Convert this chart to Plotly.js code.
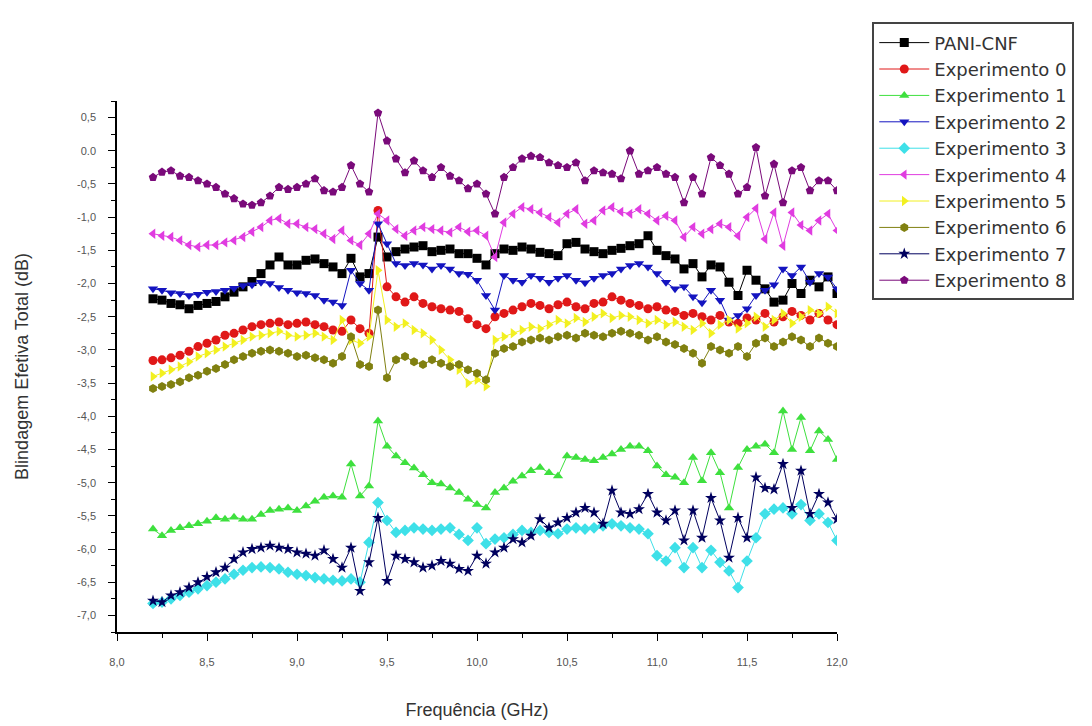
<!DOCTYPE html>
<html>
<head>
<meta charset="utf-8">
<script src="https://cdn.plot.ly/plotly-3.0.1.min.js"></script>
<style>html,body{margin:0;padding:0;background:#fff;}#chart{width:1092px;height:726px;}</style>
</head>
<body>
<div id="chart"></div>
<script>
const freq = [8.20,8.25,8.30,8.35,8.40,8.45,8.50,8.55,8.60,8.65,
8.70,8.75,8.80,8.85,8.90,8.95,9.00,9.05,9.10,9.15,
9.20,9.25,9.30,9.35,9.40,9.45,9.50,9.55,9.60,9.65,
9.70,9.75,9.80,9.85,9.90,9.95,10.00,10.05,10.10,10.15,
10.20,10.25,10.30,10.35,10.40,10.45,10.50,10.55,10.60,10.65,
10.70,10.75,10.80,10.85,10.90,10.95,11.00,11.05,11.10,11.15,
11.20,11.25,11.30,11.35,11.40,11.45,11.50,11.55,11.60,11.65,
11.70,11.75,11.80,11.85,11.90,11.95,12.00];

const pani = [-2.23,-2.25,-2.30,-2.32,-2.38,-2.33,-2.30,-2.27,-2.20,-2.13,
-2.05,-1.97,-1.85,-1.72,-1.60,-1.72,-1.72,-1.65,-1.63,-1.70,
-1.75,-1.85,-1.62,-1.90,-1.85,-1.30,-1.60,-1.52,-1.48,-1.45,
-1.43,-1.52,-1.50,-1.48,-1.55,-1.55,-1.62,-1.72,-1.55,-1.48,
-1.50,-1.45,-1.48,-1.53,-1.55,-1.58,-1.40,-1.38,-1.48,-1.52,
-1.55,-1.50,-1.47,-1.43,-1.40,-1.28,-1.50,-1.58,-1.63,-1.78,
-1.70,-1.90,-1.72,-1.75,-1.98,-2.18,-1.80,-1.95,-2.08,-2.28,
-2.25,-2.00,-2.15,-1.95,-2.05,-1.90,-2.15];

const exp0 = [-3.16,-3.15,-3.12,-3.08,-3.02,-2.95,-2.90,-2.85,-2.78,-2.75,
-2.70,-2.65,-2.62,-2.60,-2.58,-2.62,-2.60,-2.58,-2.62,-2.65,
-2.70,-2.72,-2.55,-2.68,-2.75,-0.90,-2.05,-2.20,-2.28,-2.20,
-2.30,-2.35,-2.38,-2.40,-2.42,-2.53,-2.62,-2.68,-2.50,-2.45,
-2.40,-2.35,-2.30,-2.33,-2.38,-2.32,-2.28,-2.35,-2.38,-2.30,
-2.28,-2.20,-2.25,-2.30,-2.33,-2.38,-2.35,-2.40,-2.42,-2.48,
-2.45,-2.50,-2.55,-2.48,-2.58,-2.60,-2.52,-2.55,-2.45,-2.58,
-2.50,-2.42,-2.48,-2.55,-2.45,-2.55,-2.62];

const exp1 = [-5.70,-5.80,-5.72,-5.68,-5.65,-5.62,-5.58,-5.53,-5.55,-5.52,
-5.55,-5.55,-5.48,-5.42,-5.40,-5.38,-5.42,-5.35,-5.28,-5.22,
-5.20,-5.22,-4.72,-5.20,-5.05,-4.07,-4.45,-4.60,-4.70,-4.78,
-4.88,-5.00,-5.02,-5.08,-5.15,-5.25,-5.33,-5.38,-5.15,-5.08,
-4.98,-4.90,-4.82,-4.77,-4.85,-4.90,-4.60,-4.62,-4.65,-4.67,
-4.62,-4.57,-4.50,-4.45,-4.45,-4.52,-4.75,-4.88,-4.92,-5.00,
-4.62,-4.97,-4.55,-4.85,-5.38,-4.77,-4.50,-4.45,-4.42,-4.55,
-3.92,-4.50,-4.02,-4.52,-4.22,-4.35,-4.65];

const exp2 = [-2.08,-2.10,-2.14,-2.15,-2.18,-2.16,-2.13,-2.12,-2.10,-2.07,
-2.03,-2.02,-1.98,-2.00,-2.06,-2.10,-2.14,-2.15,-2.18,-2.25,
-2.28,-2.33,-1.80,-2.00,-2.10,-1.10,-1.40,-1.70,-1.73,-1.70,
-1.72,-1.78,-1.73,-1.78,-1.85,-1.86,-1.95,-2.18,-2.40,-1.88,
-1.95,-1.98,-1.88,-1.92,-1.98,-1.92,-1.88,-1.95,-1.99,-1.92,
-1.88,-1.85,-1.78,-1.73,-1.70,-1.75,-1.85,-1.98,-2.08,-2.05,
-2.20,-2.29,-2.10,-2.25,-2.55,-2.48,-2.38,-2.18,-2.10,-2.02,
-1.78,-1.88,-1.75,-1.98,-1.85,-1.90,-2.08];

const exp3 = [-6.82,-6.80,-6.75,-6.70,-6.65,-6.60,-6.55,-6.50,-6.45,-6.38,
-6.32,-6.28,-6.27,-6.28,-6.30,-6.35,-6.38,-6.40,-6.43,-6.45,
-6.47,-6.48,-6.45,-6.50,-5.90,-5.30,-5.57,-5.75,-5.72,-5.68,
-5.70,-5.72,-5.70,-5.68,-5.78,-5.87,-5.68,-5.92,-5.85,-5.83,
-5.78,-5.72,-5.75,-5.72,-5.75,-5.77,-5.70,-5.68,-5.70,-5.68,
-5.65,-5.62,-5.65,-5.68,-5.70,-5.77,-6.10,-6.18,-5.98,-6.28,
-5.98,-6.28,-6.02,-6.20,-6.33,-6.58,-6.18,-5.83,-5.47,-5.40,
-5.38,-5.47,-5.33,-5.57,-5.47,-5.60,-5.87];

const exp4 = [-1.25,-1.28,-1.30,-1.35,-1.42,-1.45,-1.42,-1.42,-1.38,-1.35,
-1.30,-1.22,-1.15,-1.05,-1.02,-1.10,-1.10,-1.15,-1.18,-1.25,
-1.33,-1.20,-1.35,-1.42,-1.25,-0.95,-1.05,-1.18,-1.28,-1.20,
-1.15,-1.18,-1.20,-1.23,-1.15,-1.22,-1.20,-1.28,-1.60,-1.08,
-0.95,-0.85,-0.88,-0.93,-1.00,-1.08,-0.95,-0.88,-1.10,-1.05,
-0.90,-0.85,-0.92,-0.95,-0.88,-0.95,-1.05,-0.98,-1.05,-1.30,
-1.15,-1.25,-1.18,-1.10,-1.15,-1.28,-1.00,-0.87,-1.33,-0.93,
-1.43,-0.93,-1.12,-1.20,-1.05,-0.95,-1.20];

const exp5 = [-3.40,-3.35,-3.30,-3.25,-3.18,-3.10,-3.05,-3.00,-2.95,-2.90,
-2.85,-2.80,-2.78,-2.75,-2.72,-2.78,-2.80,-2.78,-2.75,-2.80,
-2.85,-2.55,-2.85,-2.90,-2.80,-1.80,-2.55,-2.65,-2.60,-2.70,
-2.75,-2.85,-3.00,-3.15,-3.30,-3.50,-3.45,-3.55,-2.85,-2.80,
-2.75,-2.70,-2.65,-2.68,-2.62,-2.55,-2.60,-2.52,-2.58,-2.50,
-2.45,-2.52,-2.48,-2.50,-2.55,-2.60,-2.55,-2.62,-2.58,-2.65,
-2.70,-2.60,-2.75,-2.62,-2.55,-2.68,-2.60,-2.50,-2.65,-2.55,
-2.45,-2.60,-2.50,-2.40,-2.45,-2.35,-2.45];

const exp6 = [-3.58,-3.55,-3.52,-3.48,-3.42,-3.38,-3.32,-3.28,-3.22,-3.15,
-3.10,-3.05,-3.02,-3.00,-3.02,-3.05,-3.10,-3.08,-3.12,-3.15,
-3.20,-3.10,-2.80,-3.22,-3.25,-2.40,-3.42,-3.15,-3.10,-3.18,
-3.22,-3.15,-3.20,-3.25,-3.22,-3.30,-3.35,-3.45,-3.05,-2.98,
-2.95,-2.88,-2.85,-2.82,-2.85,-2.80,-2.78,-2.82,-2.75,-2.78,
-2.80,-2.75,-2.72,-2.75,-2.78,-2.85,-2.80,-2.88,-2.92,-2.98,
-3.05,-3.20,-2.95,-3.00,-3.05,-2.95,-3.10,-2.90,-2.82,-2.95,
-2.88,-2.80,-2.85,-2.95,-2.82,-2.90,-2.95];

const exp7 = [-6.78,-6.80,-6.70,-6.65,-6.58,-6.50,-6.42,-6.35,-6.28,-6.15,
-6.05,-6.00,-5.98,-5.95,-5.98,-6.00,-6.05,-6.07,-6.10,-6.02,
-6.15,-6.28,-5.98,-6.63,-6.20,-5.53,-6.48,-6.10,-6.15,-6.20,
-6.28,-6.25,-6.18,-6.22,-6.30,-6.33,-6.10,-6.22,-6.05,-5.98,
-5.85,-5.90,-5.80,-5.55,-5.68,-5.60,-5.53,-5.45,-5.38,-5.45,
-5.62,-5.12,-5.45,-5.47,-5.40,-5.17,-5.45,-5.57,-5.42,-5.87,
-5.42,-5.83,-5.23,-5.57,-6.13,-5.53,-5.83,-4.92,-5.08,-5.10,
-4.72,-5.38,-4.82,-5.47,-5.17,-5.30,-5.55];

const exp8 = [-0.40,-0.32,-0.30,-0.38,-0.40,-0.45,-0.50,-0.55,-0.65,-0.72,
-0.80,-0.82,-0.78,-0.68,-0.55,-0.58,-0.55,-0.50,-0.42,-0.60,
-0.62,-0.55,-0.22,-0.50,-0.62,0.57,0.15,-0.12,-0.33,-0.15,
-0.30,-0.40,-0.25,-0.38,-0.45,-0.57,-0.50,-0.65,-0.95,-0.40,
-0.25,-0.12,-0.08,-0.10,-0.18,-0.22,-0.25,-0.18,-0.45,-0.30,
-0.33,-0.35,-0.42,0.00,-0.35,-0.30,-0.25,-0.35,-0.40,-0.78,
-0.40,-0.65,-0.10,-0.22,-0.35,-0.65,-0.55,0.05,-0.68,-0.20,
-0.78,-0.30,-0.25,-0.60,-0.45,-0.45,-0.60];

const seriesNames = ["PANI-CNF","Experimento 0","Experimento 1","Experimento 2","Experimento 3",
  "Experimento 4","Experimento 5","Experimento 6","Experimento 7","Experimento 8"];

const yTickVals = [0.5,0,-0.5,-1,-1.5,-2,-2.5,-3,-3.5,-4,-4.5,-5,-5.5,-6,-6.5,-7];
const yTickText = ["0,5","0.0","-0,5","-1,0","-1,5","-2,0","-2,5","-3,0","-3,5","-4,0","-4,5","-5,0","-5,5","-6,0","-6,5","-7,0"];
const xTickVals = [8,8.5,9,9.5,10,10.5,11,11.5,12];
const xTickText = ["8,0","8,5","9,0","9,5","10,0","10,5","11,0","11,5","12,0"];

const seriesValues = [pani, exp0, exp1, exp2, exp3, exp4, exp5, exp6, exp7, exp8];
const colors = ["#000000","#e01818","#3ee03e","#1414c0","#3ee0e8","#e03ce0","#f2f020","#808010","#00005e","#7a0a7a"];
const symbols = ["square","circle","triangle-up","triangle-down","diamond","triangle-left","triangle-right","hexagon","star","pentagon"];

const FONT = "Liberation Sans, Arial, Helvetica, sans-serif";
const WIDEFONT = "DejaVu Sans, Verdana, sans-serif";

const traces = seriesValues.map((vals, i) => ({
  type: "scatter",
  mode: "lines+markers",
  name: seriesNames[i],
  x: freq,
  y: vals,
  line: {color: colors[i], width: 1},
  marker: {color: colors[i], symbol: symbols[i], size: 9, line: {width: 0}}
}));

const layout = {
  width: 1092,
  height: 726,
  paper_bgcolor: "#ffffff",
  plot_bgcolor: "#ffffff",
  margin: {l: 117, r: 255, t: 101, b: 94},
  font: {family: FONT, color: "#333"},
  showlegend: true,
  legend: {
    x: 1.049, y: 1.148, xanchor: "left", yanchor: "top",
    bordercolor: "#444", borderwidth: 2, bgcolor: "#ffffff",
    font: {family: WIDEFONT, size: 18, color: "#333"},
    itemwidth: 50, tracegroupgap: 0, itemsizing: "trace"
  },
  xaxis: {
    range: [8, 12],
    showgrid: false, zeroline: false,
    showline: true, linecolor: "#000", linewidth: 1.5,
    ticks: "outside", ticklen: 7, tickwidth: 1.2, tickcolor: "#000",
    tickmode: "array", tickvals: xTickVals, ticktext: xTickText,
    tickfont: {family: FONT, size: 11, color: "#555"},
    ticklabelstandoff: 12,
    minor: {dtick: 0.25, tick0: 8, ticks: "outside", ticklen: 4, tickwidth: 1, tickcolor: "#000", showgrid: false},
    title: {text: "Frequência (GHz)", font: {family: FONT, size: 18, color: "#333"}, standoff: 36}
  },
  yaxis: {
    range: [-7.25, 0.75],
    showgrid: false, zeroline: false,
    showline: true, linecolor: "#000", linewidth: 1.5,
    ticks: "outside", ticklen: 7, tickwidth: 1.2, tickcolor: "#000",
    tickmode: "array", tickvals: yTickVals, ticktext: yTickText,
    tickfont: {family: FONT, size: 11, color: "#555"},
    ticklabelstandoff: 10,
    minor: {dtick: 0.25, tick0: 0, ticks: "outside", ticklen: 4, tickwidth: 1, tickcolor: "#000", showgrid: false},
    title: {text: "Blindagem Efetiva Total (dB)", font: {family: FONT, size: 18, color: "#333"}, standoff: 44}
  }
};

Plotly.newPlot("chart", traces, layout, {displayModeBar: false, responsive: false});
</script>
</body>
</html>
